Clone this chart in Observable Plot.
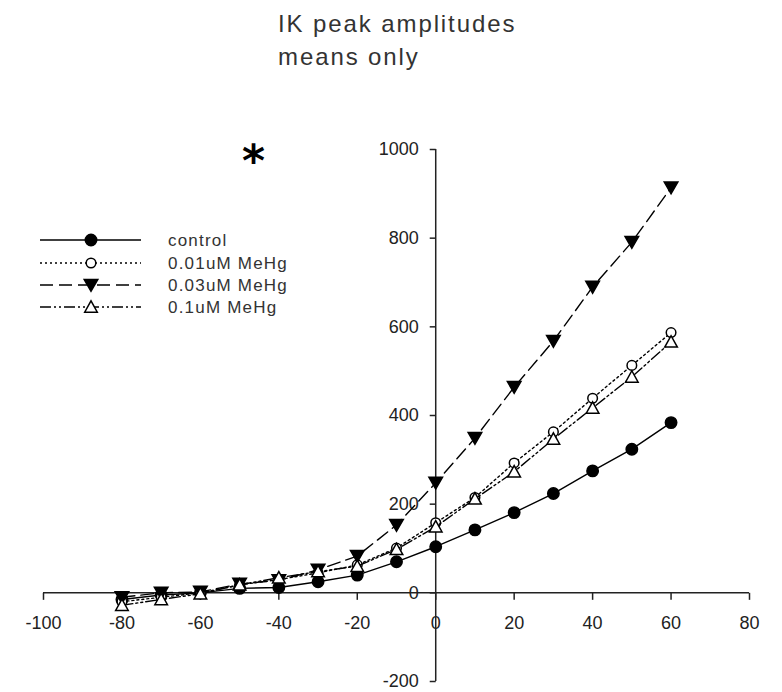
<!DOCTYPE html>
<html>
<head>
<meta charset="utf-8">
<script src="https://cdn.jsdelivr.net/npm/d3@7"></script>
<script src="https://cdn.jsdelivr.net/npm/@observablehq/plot@0.6"></script>
<style>
  body { margin: 0; background: #fff; }
  #wrap { position: relative; width: 782px; height: 692px; font-family: "Liberation Sans", Arial, sans-serif; overflow: hidden; }
  #title { height: 95px; box-sizing: border-box; padding: 7px 0 0 278px; font-size: 24px; line-height: 33px; letter-spacing: 1.9px; color: #333; }
  #star { position: absolute; left: 242px; top: 139px; font-family: "DejaVu Sans", sans-serif; font-weight: bold; font-size: 44px; line-height: 1; color: #000; }
  #legend { position: absolute; left: 0; top: 0; }
</style>
</head>
<body>
<div id="wrap">
  <div id="title"></div>
  <div id="chart"></div>
  <span id="star">*</span>
  <svg id="legend" width="320" height="330"></svg>
</div>
<script>
// Membrane potential steps (mV) and mean IK peak amplitudes per condition
const voltage = [-80, -70, -60, -50, -40, -30, -20, -10, 0, 10, 20, 30, 40, 50, 60];
const control = [-15, -5, 0, 10, 12, 25, 40, 70, 104, 142, 181, 224, 275, 324, 384];
const meHg001 = [-20, -10, 0, 18, 30, 45, 63, 101, 158, 215, 293, 363, 439, 513, 587];
const meHg003 = [-10, 0, 2, 20, 28, 52, 83, 153, 248, 349, 464, 568, 690, 791, 914];
const meHg01 = [-28, -15, -2, 18, 34, 48, 60, 98, 149, 212, 273, 347, 417, 487, 566];

const seriesNames = ["control", "0.01uM MeHg", "0.03uM MeHg", "0.1uM MeHg"];
const xTicks = [-100, -80, -60, -40, -20, 0, 20, 40, 60, 80];
const yTicks = [-200, 0, 200, 400, 600, 800, 1000];
const titleLines = ["IK peak amplitudes", "means only"];

document.getElementById("title").innerHTML = titleLines.join("<br>");

const rows = (vals) => voltage.map((v, i) => ({v, amp: vals[i]}));
const seriesData = [control, meHg001, meHg003, meHg01].map(rows);

// Custom marker shapes (drawn as d3 symbol types)
const tickDown = {draw(c) { c.moveTo(0, 0); c.lineTo(0, 7); }};
const tickLeft = {draw(c) { c.moveTo(0, 0); c.lineTo(-6, 0); }};
const triDown = {draw(c) { c.moveTo(-6.8, -5.6); c.lineTo(6.8, -5.6); c.lineTo(0, 6.2); c.closePath(); }};
const triUp = {draw(c) { c.moveTo(-6.3, 5.2); c.lineTo(6.3, 5.2); c.lineTo(0, -6.2); c.closePath(); }};
const dotCircle = {draw(c, size) { const r = Math.sqrt(size / Math.PI); c.moveTo(r, 0); c.arc(0, 0, r, 0, 2 * Math.PI); }};

const looks = [
  {dash: null, symbol: dotCircle, r: 5.7, fill: "black"},
  {dash: "2,3", symbol: dotCircle, r: 4.8, fill: "white"},
  {dash: "13,6", symbol: triDown, r: 5, fill: "black"},
  {dash: "11,3,2,3,2,3", symbol: triUp, r: 5, fill: "white"}
];

const axisColor = "#222";
const seriesMarks = seriesData.flatMap((data, k) => [
  Plot.line(data, {x: "v", y: "amp", stroke: "black", strokeWidth: 1.4, strokeDasharray: looks[k].dash}),
  Plot.dot(data, {x: "v", y: "amp", symbol: looks[k].symbol, r: looks[k].r, fill: looks[k].fill, stroke: "black", strokeWidth: 1.5})
]);

const chart = Plot.plot({
  width: 782,
  height: 597,
  marginLeft: 43,
  marginRight: 33,
  marginTop: 54,
  marginBottom: 11,
  style: {fontFamily: "'Liberation Sans', Arial, sans-serif", fontSize: "18px", background: "white", overflow: "visible"},
  x: {domain: [d3.min(xTicks), d3.max(xTicks)], axis: null},
  y: {domain: [d3.min(yTicks), d3.max(yTicks)], axis: null},
  marks: [
    // tick labels
    Plot.text(xTicks, {x: d => d, y: 0, dy: 30, text: d => String(d), fill: axisColor, fontSize: 18}),
    Plot.text(yTicks, {x: 0, y: d => d, dx: -17, textAnchor: "end", text: d => String(d), fill: axisColor, fontSize: 18}),
    // axes crossing at the origin
    Plot.ruleY([0], {stroke: axisColor, strokeWidth: 1.5}),
    Plot.ruleX([0], {y1: d3.min(yTicks), y2: d3.max(yTicks), stroke: axisColor, strokeWidth: 1.5}),
    Plot.dot(xTicks, {x: d => d, y: 0, symbol: tickDown, stroke: axisColor, strokeWidth: 1.5, fill: "none"}),
    Plot.dot(yTicks, {x: 0, y: d => d, symbol: tickLeft, stroke: axisColor, strokeWidth: 1.5, fill: "none"}),
    ...seriesMarks
  ]
});
document.getElementById("chart").appendChild(chart);

// Legend: line sample with marker, then the condition name
const legend = d3.select("#legend");
const rowY = [240, 263, 285, 307];
seriesNames.forEach((name, k) => {
  const g = legend.append("g").attr("transform", `translate(0,${rowY[k]})`);
  g.append("line").attr("x1", 40).attr("x2", 141).attr("y1", 0).attr("y2", 0)
    .attr("stroke", "black").attr("stroke-width", 1.4)
    .attr("stroke-dasharray", looks[k].dash);
  g.append("path").attr("transform", "translate(91,0)")
    .attr("d", d3.symbol(looks[k].symbol, Math.PI * looks[k].r * looks[k].r)())
    .attr("fill", looks[k].fill).attr("stroke", "black").attr("stroke-width", 1.5);
  g.append("text").attr("x", 168).attr("dy", "0.35em").text(name)
    .attr("font-family", "'Liberation Sans', Arial, sans-serif").attr("font-size", 17)
    .attr("letter-spacing", 1.2).attr("fill", "#333");
});
</script>
</body>
</html>
